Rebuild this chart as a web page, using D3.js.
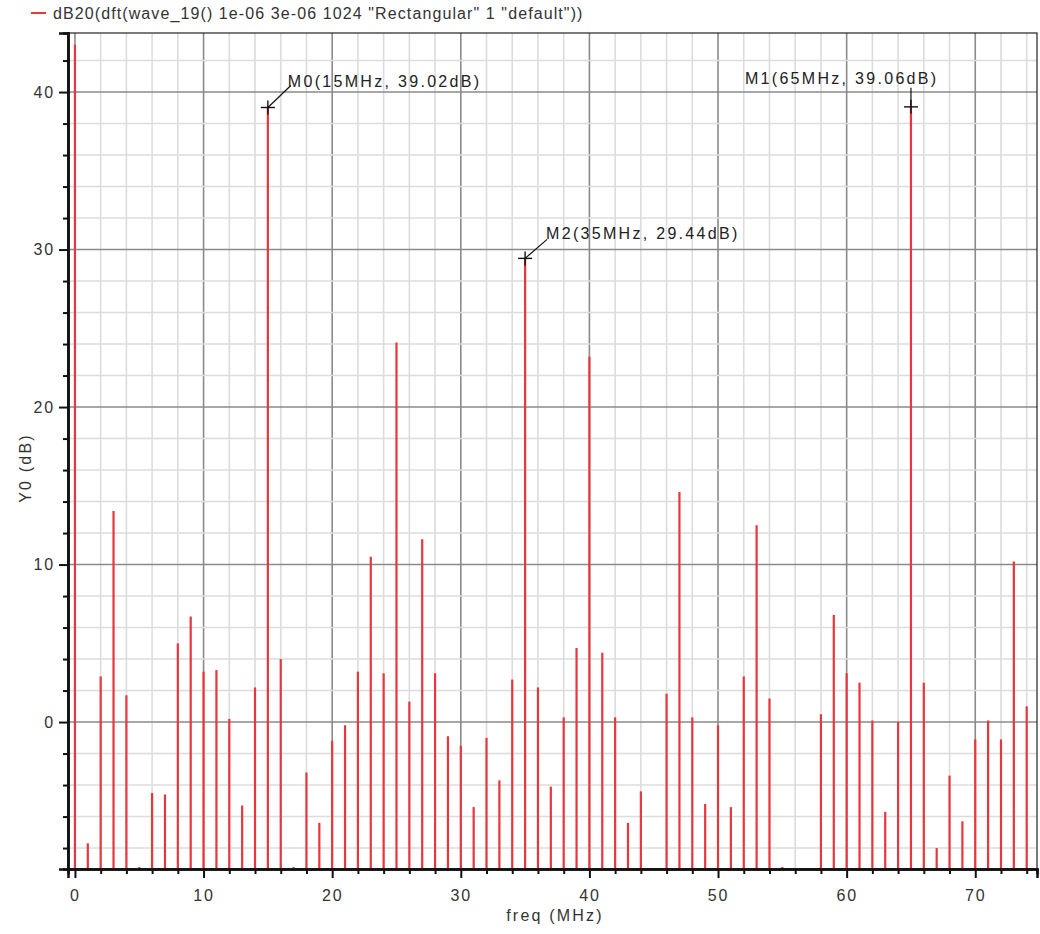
<!DOCTYPE html>
<html>
<head>
<meta charset="utf-8">
<script src="https://cdn.jsdelivr.net/npm/d3@7"></script>
<style>
  body { margin: 0; background: #fff; font-family: "Liberation Sans", Arial, sans-serif; }
  .tick text { font-size: 16px; fill: #333; letter-spacing: 1.8px; }
  .label { font-size: 16px; fill: #333; letter-spacing: 2.2px; }
  .legend { font-size: 16px; fill: #333; letter-spacing: 1.1px; }
  .marker-text { font-size: 16px; fill: #222; letter-spacing: 2.3px; }
</style>
</head>
<body>
<div id="chart"></div>
<script>
// spectrum values, one per MHz (0..74); -12 = below the visible range
const freqs = d3.range(0, 75);
const levels = [
  43.0, -7.7, 2.9, 13.4, 1.7, -9.2, -4.5, -4.6, 5.0, 6.7,
  3.2, 3.3, 0.2, -5.3, 2.2, 39.02, 4.0, -9.2, -3.2, -6.4,
  -1.2, -0.2, 3.2, 10.5, 3.1, 24.1, 1.3, 11.6, 3.1, -0.9,
  -1.5, -5.4, -1.0, -3.7, 2.7, 29.44, 2.2, -4.1, 0.3, 4.7,
  23.2, 4.4, 0.3, -6.4, -4.4, -12, 1.8, 14.6, 0.3, -5.2,
  -0.2, -5.4, 2.9, 12.5, 1.5, -9.2, -12, -12, 0.5, 6.8,
  3.1, 2.5, 0.1, -5.7, 0.0, 39.06, 2.5, -8.0, -3.4, -6.3,
  -1.1, 0.1, -1.1, 10.2, 1.0
];
const legendLabel = 'dB20(dft(wave_19() 1e-06 3e-06 1024 "Rectangular" 1 "default"))';
const markerNames = ["M0", "M2", "M1"];
const markerFreqs = [15, 35, 65];
const markerLevels = [39.02, 29.44, 39.06];
const xTicks = [0, 10, 20, 30, 40, 50, 60, 70];
const yTicks = [0, 10, 20, 30, 40];

const data = freqs.map((f, i) => ({ f: f, v: levels[i] }));

const margin = { top: 33, right: 3, bottom: 65, left: 68 };
const width = 1040 - margin.left - margin.right;
const height = 934 - margin.top - margin.bottom;

const svg = d3.select("#chart").append("svg")
  .attr("width", 1040)
  .attr("height", 934);

const g = svg.append("g")
  .attr("transform", "translate(" + margin.left + "," + margin.top + ")");

const x = d3.scaleLinear().domain([-0.54, 74.8]).range([0, width]);
const y = d3.scaleLinear().domain([-9.33, 43.75]).range([height, 0]);

// grid - minor then major
g.append("g").selectAll("line")
  .data(d3.range(0, 76, 2))
  .join("line")
  .attr("x1", d => x(d)).attr("x2", d => x(d))
  .attr("y1", 0).attr("y2", height)
  .attr("stroke", d => d % 10 === 0 ? "#8a8a8a" : "#dcdcdc")
  .attr("stroke-width", 1.6);

g.append("g").selectAll("line")
  .data(d3.range(-8, 44, 2))
  .join("line")
  .attr("x1", 0).attr("x2", width)
  .attr("y1", d => y(d)).attr("y2", d => y(d))
  .attr("stroke", d => d % 10 === 0 ? "#8a8a8a" : "#dcdcdc")
  .attr("stroke-width", 1.6);

// frame
g.append("rect")
  .attr("width", width).attr("height", height)
  .attr("fill", "none").attr("stroke", "#222").attr("stroke-width", 1.2);

// clip for stems
g.append("clipPath").attr("id", "clip")
  .append("rect").attr("width", width).attr("height", height);

g.append("g").attr("clip-path", "url(#clip)")
  .selectAll("line")
  .data(data)
  .join("line")
  .attr("x1", d => x(d.f)).attr("x2", d => x(d.f))
  .attr("y1", height)
  .attr("y2", d => Math.min(height, y(d.v)))
  .attr("stroke", "#e8363c")
  .attr("stroke-width", 2.2);

// axes
const xAxis = d3.axisBottom(x).tickValues(xTicks).tickSize(9).tickPadding(12).tickFormat(d3.format("d"));
const xMinor = d3.axisBottom(x).tickValues(d3.range(0, 76, 2).filter(d => d % 10 !== 0)).tickSize(5).tickFormat("");
const yAxis = d3.axisLeft(y).tickValues(yTicks).tickSize(9).tickPadding(4).tickFormat(d3.format("d"));
const yMinor = d3.axisLeft(y).tickValues(d3.range(-8, 44, 2).filter(d => d % 10 !== 0)).tickSize(5).tickFormat("");

[xAxis, xMinor].forEach(a => {
  g.append("g").attr("transform", "translate(0," + height + ")").call(a)
    .call(s => s.select(".domain").attr("stroke", "#111").attr("stroke-width", 2.5))
    .call(s => s.selectAll(".tick line").attr("stroke", "#111").attr("stroke-width", 2));
});
[yAxis, yMinor].forEach(a => {
  g.append("g").call(a)
    .call(s => s.select(".domain").attr("stroke", "#111").attr("stroke-width", 2.5))
    .call(s => s.selectAll(".tick line").attr("stroke", "#111").attr("stroke-width", 2));
});
g.selectAll(".tick text").style("font-family", "Liberation Sans, Arial, sans-serif");

// axis labels
svg.append("text").attr("class", "label")
  .attr("x", 555).attr("y", 921)
  .attr("text-anchor", "middle")
  .text("freq (MHz)");

svg.append("text").attr("class", "label")
  .attr("transform", "translate(31,468) rotate(-90)")
  .attr("text-anchor", "middle")
  .text("Y0 (dB)");

// legend
svg.append("line")
  .attr("x1", 31).attr("x2", 46).attr("y1", 13).attr("y2", 13)
  .attr("stroke", "#e8363c").attr("stroke-width", 2);
svg.append("text").attr("class", "legend")
  .attr("x", 53).attr("y", 19)
  .text(legendLabel);

// markers
const markerOffsets = [[23, -22], [22, -19], [0, -19]];
const textOffsets = [[20, -20], [21, -19], [-166, -23]];
markerNames.forEach((name, i) => {
  const mx = x(markerFreqs[i]);
  const my = y(markerLevels[i]);
  const mg = g.append("g");
  mg.append("line").attr("x1", mx - 7).attr("x2", mx + 7).attr("y1", my).attr("y2", my)
    .attr("stroke", "#111").attr("stroke-width", 1.4);
  mg.append("line").attr("x1", mx).attr("x2", mx).attr("y1", my - 7).attr("y2", my + 7)
    .attr("stroke", "#111").attr("stroke-width", 1.4);
  mg.append("line")
    .attr("x1", mx).attr("y1", my)
    .attr("x2", mx + markerOffsets[i][0]).attr("y2", my + markerOffsets[i][1])
    .attr("stroke", "#111").attr("stroke-width", 1.2);
  mg.append("text").attr("class", "marker-text")
    .attr("x", mx + textOffsets[i][0]).attr("y", my + textOffsets[i][1])
    .text(name + "(" + markerFreqs[i] + "MHz, " + markerLevels[i].toFixed(2) + "dB)");
});
</script>
</body>
</html>
